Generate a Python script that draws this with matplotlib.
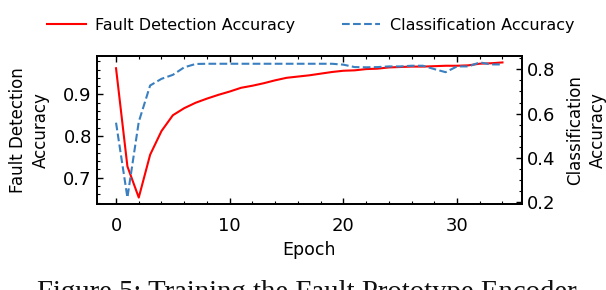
import numpy as np
import matplotlib
matplotlib.use('Agg')
import matplotlib.pyplot as plt
from matplotlib.ticker import MultipleLocator

# Dados
epochs = np.arange(35)
fault_acc = [0.963, 0.727, 0.652, 0.755, 0.812, 0.850, 0.867, 0.880, 0.890, 0.899,
             0.907, 0.916, 0.921, 0.927, 0.934, 0.940, 0.943, 0.946, 0.950, 0.954,
             0.957, 0.958, 0.961, 0.962, 0.965, 0.966, 0.967, 0.967, 0.968, 0.969,
             0.969, 0.970, 0.974, 0.975, 0.977]
class_acc = [0.559, 0.221, 0.563, 0.727, 0.757, 0.775, 0.809, 0.824, 0.825, 0.825,
             0.825, 0.825, 0.825, 0.825, 0.825, 0.825, 0.825, 0.825, 0.825, 0.825,
             0.821, 0.810, 0.809, 0.810, 0.813, 0.813, 0.816, 0.816, 0.801, 0.787,
             0.813, 0.813, 0.831, 0.822, 0.822]
labels = ['Fault Detection Accuracy', 'Classification Accuracy']
caption = 'Figure 5: Training the Fault Prototype Encoder'

plt.rcParams['font.family'] = 'DejaVu Sans'

fig = plt.figure(figsize=(6.06, 2.9), dpi=100)
ax1 = fig.add_axes([0.1596, 0.2955, 0.7014, 0.5125])
ax2 = ax1.twinx()

l1, = ax1.plot(epochs, fault_acc, color='#ff0000', linewidth=1.5, label=labels[0])
l2, = ax2.plot(epochs, class_acc, color='#3a7fc0', linewidth=1.5, linestyle='--', label=labels[1])

ax1.set_xlabel('Epoch', fontsize=12.5, labelpad=4)
ax1.set_ylabel('Fault Detection\nAccuracy', fontsize=12, linespacing=1.3, labelpad=10)
ax2.set_ylabel('Classification\nAccuracy', fontsize=12, linespacing=1.3, labelpad=8)

ax1.xaxis.set_major_locator(MultipleLocator(10))
ax1.xaxis.set_minor_locator(MultipleLocator(2))
ax1.yaxis.set_major_locator(MultipleLocator(0.1))
ax1.yaxis.set_minor_locator(MultipleLocator(0.02))
ax2.yaxis.set_major_locator(MultipleLocator(0.2))
ax2.yaxis.set_minor_locator(MultipleLocator(0.05))

ax1.tick_params(which='both', direction='in', top=True, right=False, labelsize=13)
ax1.tick_params(which='major', length=4.5, width=1)
ax1.tick_params(which='minor', length=2.5, width=0.8)
ax1.tick_params(axis='x', which='major', pad=9.5)
ax2.tick_params(which='both', direction='in', labelsize=13)
ax2.tick_params(which='major', length=4.5, width=1)
ax2.tick_params(which='minor', length=2.5, width=0.8)
for ax in (ax1, ax2):
    for s in ax.spines.values():
        s.set_linewidth(1.3)

fig.legend(handles=[l1, l2], loc='center', bbox_to_anchor=(0.513, 0.912), ncol=2,
           frameon=False, fontsize=11.5, handlelength=2.4, handletextpad=0.6,
           columnspacing=2.9)

fig.text(0.507, -0.0345, caption, family='Liberation Serif', fontsize=20.7,
         ha='center', va='baseline', color='#111111')

fig.savefig('out.png', dpi=100)
